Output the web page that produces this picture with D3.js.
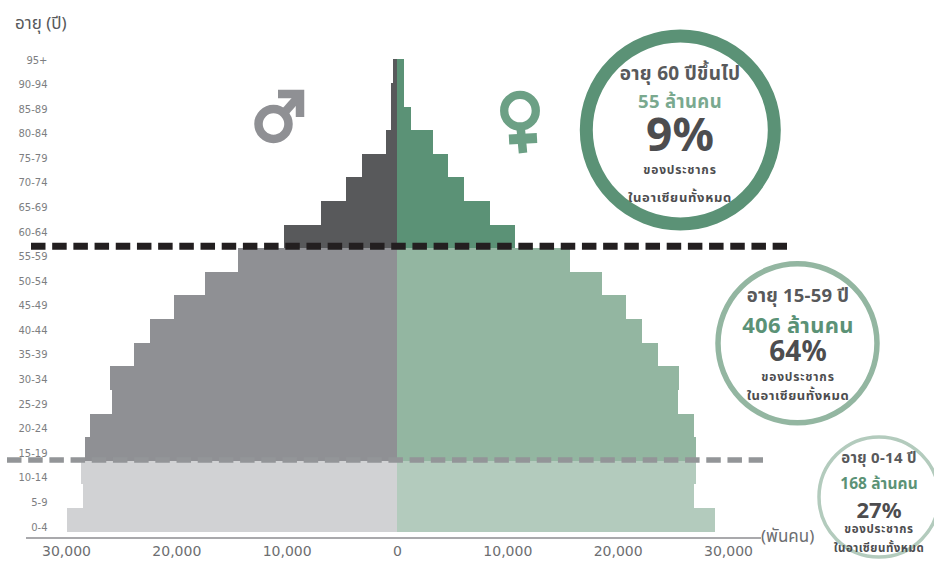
<!DOCTYPE html>
<html lang="th">
<head>
<meta charset="utf-8">
<title>ปิรามิดประชากรอาเซียน</title>
<script src="https://cdn.jsdelivr.net/npm/d3@7/dist/d3.min.js"></script>
<style>
  html, body { margin: 0; padding: 0; background: #fff; }
  svg { display: block; font-family: "Noto Sans", "Noto Sans Thai", "DejaVu Sans", sans-serif; }
</style>
</head>
<body>
<svg id="chart" width="934" height="562"></svg>
<script>
// Five-year age groups, oldest first; populations in thousands.
const ageGroups = ["95+","90-94","85-89","80-84","75-79","70-74","65-69","60-64","55-59","50-54",
                   "45-49","40-44","35-39","30-34","25-29","20-24","15-19","10-14","5-9","0-4"];
const maleValues = [360,510,510,1020,3140,4600,6900,10250,14400,17400,
                    20200,22350,23800,26000,25800,27800,28300,28600,28450,29950];
const femaleValues = [630,630,1300,3260,4620,6100,8400,10700,15700,18550,
                      20800,22170,23650,25600,25470,26950,27120,27120,26950,28800];
const axisTicks = [-30000,-20000,-10000,0,10000,20000,30000];

// Broad age band of each group, used to pick the bar colour.
const bandOf = ageGroups.map((_, i) => i < 8 ? "old" : i < 17 ? "working" : "young");
const maleColors = { old: "#58595b", working: "#8f9094", young: "#d1d2d4" };
const femaleColors = { old: "#5b9276", working: "#93b6a1", young: "#b3cbbd" };

// Summary rings: one list per field, old / working / young.
const ringTitles = ["อายุ 60 ปีขึ้นไป", "อายุ 15-59 ปี", "อายุ 0-14 ปี"];
const ringCounts = ["55 ล้านคน", "406 ล้านคน", "168 ล้านคน"];
const ringShares = ["9%", "64%", "27%"];
const ringLine1 = "ของประชากร";
const ringLine2 = "ในอาเซียนทั้งหมด";

const svg = d3.select("#chart");

const x = d3.scaleLinear().domain([-30000, 30000]).range([66, 728]);
const y = d3.scaleBand().domain(ageGroups).range([59.3, 531.6]);
const labelY = d3.scalePoint().domain(ageGroups).range([60, 527]);

// Population bars, male to the left of zero and female to the right.
const bars = svg.append("g").attr("shape-rendering", "crispEdges");
bars.selectAll("rect.male").data(ageGroups).join("rect")
  .attr("class", "male")
  .attr("x", (d, i) => x(-maleValues[i]))
  .attr("y", d => y(d))
  .attr("width", (d, i) => x(0) - x(-maleValues[i]))
  .attr("height", y.bandwidth())
  .attr("fill", (d, i) => maleColors[bandOf[i]]);
bars.selectAll("rect.female").data(ageGroups).join("rect")
  .attr("class", "female")
  .attr("x", x(0))
  .attr("y", d => y(d))
  .attr("width", (d, i) => x(femaleValues[i]) - x(0))
  .attr("height", y.bandwidth())
  .attr("fill", (d, i) => femaleColors[bandOf[i]]);

// Dashed separators between the broad age bands.
svg.append("line").attr("x1", 31).attr("x2", 787).attr("y1", 246.3).attr("y2", 246.3)
  .attr("stroke", "#231f20").attr("stroke-width", 7).attr("stroke-dasharray", "14.5 6.69");
svg.append("line").attr("x1", 7).attr("x2", 763).attr("y1", 460).attr("y2", 460)
  .attr("stroke", "#939598").attr("stroke-width", 5.5).attr("stroke-dasharray", "14.5 6.69");

// Age labels down the left side.
svg.append("g").selectAll("text").data(ageGroups).join("text")
  .attr("x", 47.5)
  .attr("y", d => labelY(d))
  .attr("dy", "0.35em")
  .attr("text-anchor", "end")
  .attr("font-family", "DejaVu Sans")
  .attr("font-size", 10)
  .attr("fill", "#7d7e81")
  .text(d => d);

svg.append("text").attr("x", 15).attr("y", 29)
  .attr("font-size", 17).attr("fill", "#58595b").text("อายุ (ปี)");

// Horizontal population axis.
const axis = d3.axisBottom(x).tickValues(axisTicks).tickSize(0).tickPadding(8)
  .tickFormat(d => d3.format(",")(Math.abs(d)));
const axisG = svg.append("g").attr("transform", "translate(0,538)").call(axis);
axisG.select(".domain").remove();
axisG.selectAll("text").attr("font-family", "DejaVu Sans").attr("font-size", 14)
  .attr("fill", "#6d6e71");
svg.append("line").attr("x1", 26).attr("x2", 761).attr("y1", 538).attr("y2", 538)
  .attr("stroke", "#8c8d91").attr("stroke-width", 1.4);
svg.append("text").attr("x", 761).attr("y", 542)
  .attr("font-size", 17).attr("fill", "#6d6e71").text("(พันคน)");

// Male symbol: ring with an arrow pointing up and to the right.
const maleSym = svg.append("g").attr("fill", "none").attr("stroke", "#8f9094").attr("stroke-width", 8.5);
maleSym.append("circle").attr("cx", 273.5).attr("cy", 124).attr("r", 15);
maleSym.append("path").attr("d", "M284 113 L300 95");
maleSym.append("path").attr("d", "M278 94 L300 94 L300 117");

// Female symbol: ring with a cross below it.
const femaleSym = svg.append("g").attr("fill", "none").attr("stroke", "#6ca085").attr("stroke-width", 8.3);
femaleSym.append("circle").attr("cx", 520).attr("cy", 110.7).attr("r", 15.8);
femaleSym.append("path").attr("d", "M520.5 126 L523 153").attr("stroke-width", 8.5);
femaleSym.append("path").attr("d", "M509 139.5 L537 138").attr("stroke-width", 10);

// One summary ring with its stacked captions; each row is [y, size, tracking].
function drawRing(spec) {
  const g = svg.append("g");
  g.append("circle").attr("cx", spec.cx).attr("cy", spec.cy).attr("r", spec.r)
    .attr("fill", "none").attr("stroke", spec.color).attr("stroke-width", spec.sw);
  const rows = [
    [ringTitles[spec.i], spec.title, "#58595b"],
    [ringCounts[spec.i], spec.count, spec.countColor],
    [ringShares[spec.i], spec.share, "#4d4d4f"],
    [ringLine1, spec.l1, "#4d4d4f"],
    [ringLine2, spec.l2, "#4d4d4f"]
  ];
  g.selectAll("text").data(rows).join("text")
    .attr("x", spec.tx)
    .attr("y", d => d[1][0])
    .attr("dy", "0.35em")
    .attr("text-anchor", "middle")
    .attr("font-size", d => d[1][1])
    .attr("letter-spacing", d => d[1][2])
    .attr("fill", d => d[2])
    .attr("font-weight", 700)
    .text(d => d[0]);
}

drawRing({ i: 0, cx: 680.3, cy: 130, r: 94, sw: 13, tx: 680, color: "#5b9276", countColor: "#7aa98f",
  title: [73, 19, 0.3], count: [102, 18.5, 0.4], share: [135, 46, 0], l1: [170, 12, 0.8], l2: [197, 13, 0.7] });
drawRing({ i: 1, cx: 797.5, cy: 343.3, r: 79.5, sw: 5.5, tx: 798, color: "#93b6a1", countColor: "#5b9276",
  title: [296, 18.5, 0.2], count: [325, 22, 0.3], share: [351, 28, 0], l1: [377, 12, 0.8], l2: [395, 13, 0.6] });
drawRing({ i: 2, cx: 879, cy: 497, r: 60, sw: 3.5, tx: 879, color: "#b3cbbd", countColor: "#5b9276",
  title: [458, 15, 0.3], count: [484, 15.5, 0.1], share: [510, 22, 0], l1: [529, 11.5, 0.7], l2: [548, 11.5, 0.5] });
</script>
</body>
</html>
